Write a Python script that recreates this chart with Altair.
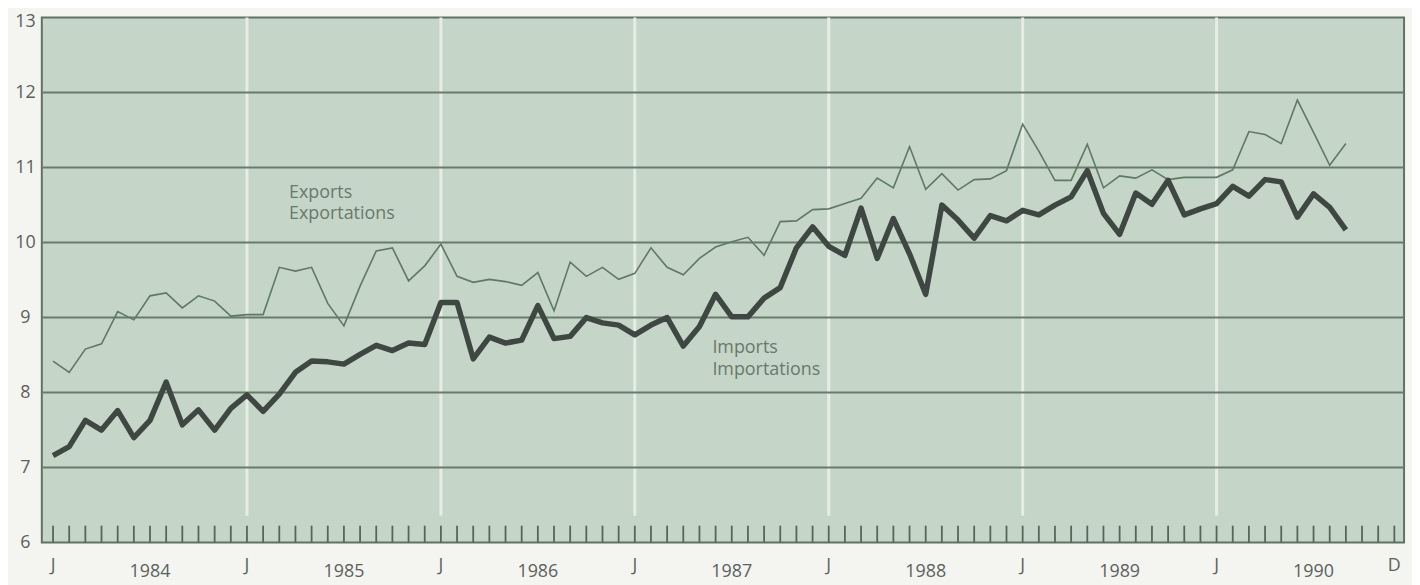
import altair as alt
import pandas as pd

# ---- data (monthly, Jan 1984 .. Sep 1990) ----
month_index = list(range(81))
exports = [8.42, 8.27, 8.58, 8.65, 9.08, 8.97, 9.29, 9.33, 9.13, 9.29, 9.22, 9.02,
           9.04, 9.04, 9.67, 9.62, 9.67, 9.19, 8.89, 9.42, 9.89, 9.93, 9.49, 9.69,
           9.98, 9.55, 9.47, 9.51, 9.48, 9.43, 9.60, 9.09, 9.74, 9.55, 9.67, 9.51,
           9.59, 9.93, 9.67, 9.57, 9.79, 9.94, 10.01, 10.07, 9.83, 10.28, 10.29, 10.44,
           10.45, 10.52, 10.59, 10.86, 10.73, 11.28, 10.71, 10.92, 10.70, 10.84, 10.85, 10.96,
           11.58, 11.22, 10.83, 10.83, 11.31, 10.73, 10.89, 10.86, 10.97, 10.84, 10.87, 10.87,
           10.87, 10.97, 11.48, 11.44, 11.32, 11.90, 11.47, 11.03, 11.32]
imports = [7.16, 7.28, 7.63, 7.50, 7.76, 7.40, 7.63, 8.14, 7.57, 7.77, 7.50, 7.79,
           7.97, 7.75, 7.98, 8.27, 8.42, 8.41, 8.38, 8.51, 8.63, 8.56, 8.66, 8.64,
           9.20, 9.20, 8.45, 8.74, 8.66, 8.70, 9.16, 8.72, 8.75, 9.00, 8.93, 8.90,
           8.77, 8.90, 9.00, 8.62, 8.88, 9.31, 9.01, 9.01, 9.26, 9.40, 9.93, 10.21,
           9.95, 9.83, 10.46, 9.79, 10.32, 9.85, 9.31, 10.50, 10.30, 10.06, 10.36, 10.29,
           10.43, 10.37, 10.50, 10.61, 10.96, 10.39, 10.11, 10.66, 10.51, 10.83, 10.37, 10.45,
           10.52, 10.75, 10.62, 10.84, 10.81, 10.34, 10.65, 10.47, 10.17]

y_ticks = [6, 7, 8, 9, 10, 11, 12, 13]
grid_values = [7, 8, 9, 10, 11, 12]
tick_months = list(range(84))
jan_months = [12, 24, 36, 48, 60, 72]
month_label_pos = [0, 12, 24, 36, 48, 60, 72, 83]
month_label_text = ["J", "J", "J", "J", "J", "J", "J", "D"]
year_label_pos = [6, 18, 30, 42, 54, 66, 78]
year_label_text = ["1984", "1985", "1986", "1987", "1988", "1989", "1990"]
note_text = ["Exports", "Exportations", "Imports", "Importations"]
note_month = [14.6, 14.6, 40.8, 40.8]
note_value = [10.60, 10.31, 8.53, 8.23]

FONT = "Open Sans"
LABEL_COLOR = "#5b625c"
xs = alt.Scale(domain=[-0.695, 83.6], nice=False, zero=False)
ys = alt.Scale(domain=[6, 13], nice=False, zero=False)
y_axis = alt.Axis(values=y_ticks, title=None, grid=False, domain=False,
                  ticks=False, labelPadding=17, labelAlign="center",
                  labelBaseline="middle", labelFont=FONT, labelFontSize=18,
                  labelColor=LABEL_COLOR, format="d", labelOverlap=False,
                  labelOffset=alt.condition("datum.value == 13", alt.value(4), alt.value(0)))

df = pd.DataFrame({"m": month_index, "exp": exports, "imp": imports})

jan = alt.Chart(pd.DataFrame({"m": jan_months})).mark_rule(
    color="#e5ede4", strokeWidth=3
).encode(x=alt.X("m:Q", scale=xs, axis=None), y=alt.value(0), y2=alt.value(501))

grid = alt.Chart(pd.DataFrame({"v": grid_values})).mark_rule(
    color="#687c6b", strokeWidth=2
).encode(y=alt.Y("v:Q", scale=ys, axis=y_axis))

ticks = alt.Chart(pd.DataFrame({"m": tick_months})).mark_rule(
    color="#56665a", strokeWidth=1.8
).encode(x=alt.X("m:Q", scale=xs, axis=None), y=alt.value(528), y2=alt.value(511))

exp_line = alt.Chart(df).mark_line(color="#5f7964", strokeWidth=1.6).encode(
    x=alt.X("m:Q", scale=xs, axis=None),
    y=alt.Y("exp:Q", scale=ys, axis=y_axis),
)
imp_line = alt.Chart(df).mark_line(color="#3f4742", strokeWidth=5.5, strokeJoin="round").encode(
    x=alt.X("m:Q", scale=xs, axis=None),
    y=alt.Y("imp:Q", scale=ys, axis=y_axis),
)

notes = alt.Chart(pd.DataFrame({"m": note_month, "v": note_value, "t": note_text})).mark_text(
    align="left", baseline="alphabetic", font=FONT, fontSize=18, color="#687a6b"
).encode(x=alt.X("m:Q", scale=xs, axis=None), y=alt.Y("v:Q", scale=ys, axis=y_axis), text="t:N")

mlabels = alt.Chart(pd.DataFrame({"m": month_label_pos, "t": month_label_text})).mark_text(
    align="center", baseline="alphabetic", font=FONT, fontSize=18, color=LABEL_COLOR
).encode(x=alt.X("m:Q", scale=xs, axis=None), y=alt.value(557), text="t:N")

ylabels = alt.Chart(pd.DataFrame({"m": year_label_pos, "t": year_label_text})).mark_text(
    align="center", baseline="alphabetic", font=FONT, fontSize=18, color=LABEL_COLOR
).encode(x=alt.X("m:Q", scale=xs, axis=None), y=alt.value(563), text="t:N")

chart = alt.layer(jan, grid, ticks, exp_line, imp_line, notes, mlabels, ylabels).properties(
    width=1370, height=528,
    autosize=alt.AutoSizeParams(type="none"),
    padding={"left": 34, "top": 8, "right": 8, "bottom": 41},
    background="#f4f5f1",
).configure_view(
    stroke="#5f7363", strokeWidth=2, fill="#c5d5c7"
)

chart.save("out.html", embed_options={"renderer": "svg", "actions": False})
